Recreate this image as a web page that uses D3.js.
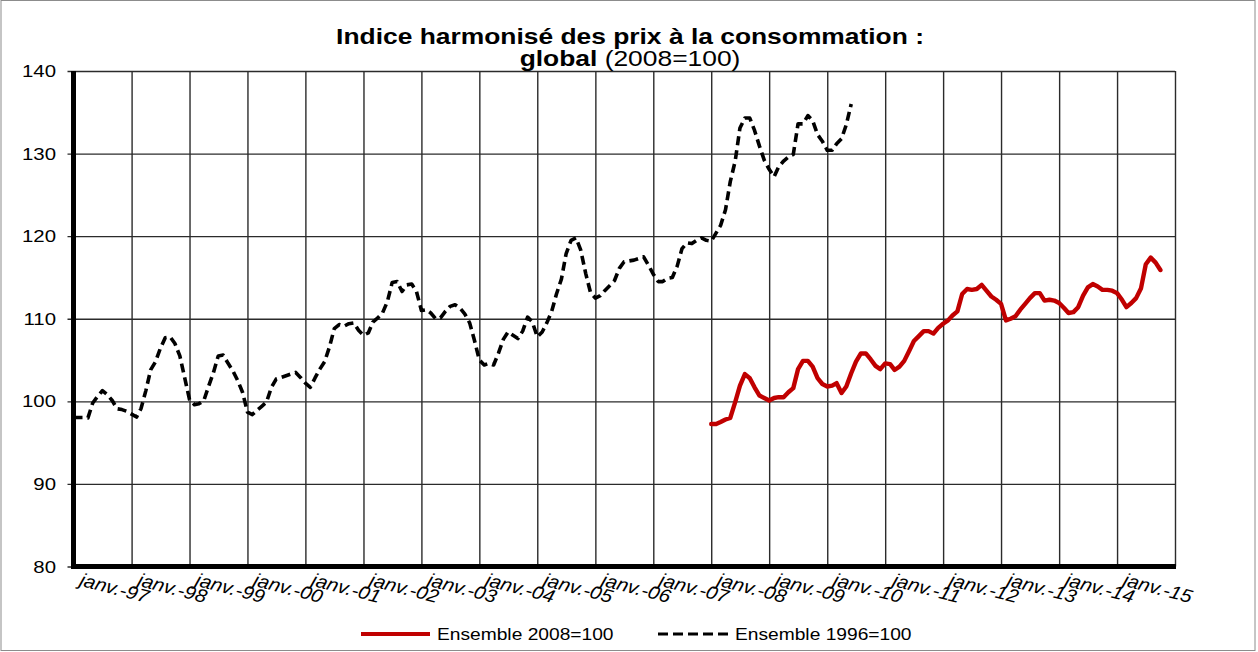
<!DOCTYPE html>
<html lang="fr">
<head>
<meta charset="utf-8">
<script src="https://cdn.jsdelivr.net/npm/d3@7"></script>
<style>
  html, body { margin: 0; padding: 0; background: #fff; }
  svg { display: block; font-family: "Liberation Sans", Arial, sans-serif; }
</style>
</head>
<body>
<svg id="chart" width="1258" height="652"></svg>
<script>
// Indice harmonisé des prix à la consommation, valeurs mensuelles
const firstMonth1996 = "1996-01";   // début de la série base 1996
const firstMonth2008 = "2007-01";   // début de la série base 2008

const ensemble1996 = [
  98.05, 98.05, 98.05, 98.0, 99.8, 100.6, 101.3, 100.8, 100.1, 99.1, 99.0, 98.8,
  98.45, 98.1, 99.1, 101.3, 103.8, 104.8, 106.4, 107.7, 107.8, 107.0, 105.5, 102.9,
  100.2, 99.6, 99.7, 100.1, 101.8, 103.5, 105.5, 105.6, 104.6, 103.7, 102.5, 101.1,
  98.7, 98.4, 98.9, 99.4, 99.9, 101.7, 102.7, 102.9, 103.1, 103.3, 103.5, 102.9,
  102.2, 101.7, 102.8, 103.9, 104.8, 106.6, 108.8, 109.3, 109.1, 109.4, 109.5, 108.6,
  108.0, 108.3, 109.6, 110.1, 110.7, 112.1, 114.4, 114.5, 113.3, 114.1, 114.2, 113.3,
  111.0, 111.1, 110.7, 110.0, 110.1, 110.9, 111.5, 111.7, 111.3, 110.6, 109.5, 107.4,
  105.0, 104.4, 104.6, 104.4, 105.8, 107.5, 108.4, 108.0, 107.6, 108.5, 110.2, 109.6,
  107.8, 108.4, 109.5, 110.9, 113.0, 114.8, 117.9, 119.5, 119.8, 118.3, 115.5, 113.2,
  112.5, 112.8, 113.4, 114.0, 114.6, 116.1, 116.9, 117.0, 117.1, 117.3, 117.5, 116.5,
  115.4, 114.5, 114.5, 114.9, 115.0, 116.4, 118.5, 119.2, 119.1, 119.5, 119.8, 119.5,
  119.4, 120.4, 121.3, 123.2, 126.6, 129.1, 133.1, 134.3, 134.3, 132.8, 130.9, 129.2,
  128.1, 127.2, 128.4, 129.1, 129.6, 129.9, 133.6, 133.6, 134.6, 134.0, 132.3, 131.5,
  130.4, 130.4, 131.2, 131.8, 133.5, 136.0
];

const ensemble2008 = [
  97.25, 97.25, 97.5, 97.8, 98.0, 99.9, 101.9, 103.3, 102.8, 101.7, 100.7, 100.4,
  100.1, 100.4, 100.5, 100.5, 101.1, 101.6, 103.9, 104.9, 104.9, 104.2, 102.8, 102.1,
  101.8, 101.9, 102.2, 101.0, 101.8, 103.4, 104.8, 105.8, 105.8, 105.1, 104.3, 103.9,
  104.6, 104.5, 103.8, 104.2, 104.9, 106.1, 107.3, 107.9, 108.5, 108.5, 108.2, 108.9,
  109.4, 109.8, 110.4, 110.9, 113.0, 113.6, 113.5, 113.6, 114.1, 113.4, 112.7, 112.3,
  111.8, 109.8, 110.0, 110.3, 111.1, 111.8, 112.5, 113.1, 113.1, 112.2, 112.3, 112.2,
  111.9, 111.3, 110.7, 110.8, 111.4, 112.8, 113.8, 114.2, 113.9, 113.5, 113.5, 113.4,
  113.1, 112.3, 111.4, 111.9, 112.5, 113.7, 116.6, 117.4, 116.8, 115.9
];

const yTicks = [80, 90, 100, 110, 120, 130, 140];
const tickYears = d3.range(1996, 2016);

const titleLine1 = "Indice harmonisé des prix à la consommation :";
const titleBold2 = "global";
const titleRest2 = " (2008=100)";
const legendLabels = ["Ensemble 2008=100", "Ensemble 1996=100"];

// Français : mois abrégés pour les étiquettes de l'axe
const fr = d3.timeFormatLocale({
  dateTime: "%A %e %B %Y à %X", date: "%d/%m/%Y", time: "%H:%M:%S",
  periods: ["AM", "PM"],
  days: ["dimanche","lundi","mardi","mercredi","jeudi","vendredi","samedi"],
  shortDays: ["dim.","lun.","mar.","mer.","jeu.","ven.","sam."],
  months: ["janvier","février","mars","avril","mai","juin","juillet","août","septembre","octobre","novembre","décembre"],
  shortMonths: ["janv.","févr.","mars","avr.","mai","juin","juil.","août","sept.","oct.","nov.","déc."]
});
const fmtTick = fr.format("%b-%y");
const parseMonth = d3.timeParse("%Y-%m");

const toSeries = (start, values) => {
  const d0 = parseMonth(start);
  return values.map((v, i) => ({ date: d3.timeMonth.offset(d0, i), value: v }));
};
const s1996 = toSeries(firstMonth1996, ensemble1996);
const s2008 = toSeries(firstMonth2008, ensemble2008);

const svg = d3.select("#chart");
const W = 1258, H = 652;
const plot = { left: 73.5, right: 1175, top: 71, bottom: 566.5 };
const SX = 1.2; // largeur de police élargie

const x = d3.scaleTime()
  .domain([new Date(1996, 0, 1), new Date(2015, 0, 1)])
  .range([plot.left, plot.right]);
const y = d3.scaleLinear().domain([80, 140]).range([plot.bottom, plot.top]);

// cadre extérieur
svg.append("rect")
  .attr("x", 1).attr("y", 0.5).attr("width", W - 4).attr("height", H - 2)
  .attr("fill", "none").attr("stroke", "#8c8c8c").attr("stroke-width", 1);

// grille horizontale avec petites graduations vers la gauche
const gridY = d3.axisLeft(y).tickValues(yTicks)
  .tickSize(-(plot.right - plot.left) - 6).tickFormat("");
svg.append("g")
  .attr("transform", `translate(${plot.left - 6},0)`)
  .call(gridY)
  .call(g => g.select(".domain").remove())
  .call(g => g.selectAll(".tick line").attr("stroke", "#2b2b2b").attr("stroke-width", 1.4));

// grille verticale : un trait par mois de janvier
const gridX = d3.axisBottom(x).tickValues(tickYears.map(yr => new Date(yr, 0, 1)))
  .tickSize(-(plot.bottom - plot.top)).tickFormat("");
svg.append("g")
  .attr("transform", `translate(0,${plot.bottom})`)
  .call(gridX)
  .call(g => g.select(".domain").remove())
  .call(g => g.selectAll(".tick line").attr("stroke", "#2b2b2b").attr("stroke-width", 1.4));

// axes épais
svg.append("line")
  .attr("x1", plot.left).attr("x2", plot.left)
  .attr("y1", plot.top).attr("y2", plot.bottom + 2.5)
  .attr("stroke", "#000").attr("stroke-width", 5);
svg.append("line")
  .attr("x1", plot.left - 2.5).attr("x2", plot.right + 1)
  .attr("y1", plot.bottom).attr("y2", plot.bottom)
  .attr("stroke", "#000").attr("stroke-width", 5);

// étiquettes de l'axe vertical
svg.append("g").selectAll("text").data(yTicks).join("text")
  .attr("transform", d => `translate(56,${y(d)}) scale(${SX},1)`)
  .attr("text-anchor", "end").attr("dy", "0.36em")
  .attr("font-size", 17).attr("fill", "#000")
  .text(d => d);

// étiquettes de l'axe horizontal (inclinées, italiques)
svg.append("g").selectAll("text").data(tickYears.slice(1)).join("text")
  .attr("transform", yr => `translate(${x(new Date(yr, 0, 1)) + 15},603) scale(1.1,1) rotate(16)`)
  .attr("text-anchor", "end")
  .attr("font-size", 18.5).attr("font-style", "italic").attr("fill", "#000")
  .text(yr => fmtTick(new Date(yr, 0, 1)));

// courbes
const line = d3.line().x(d => x(d.date)).y(d => y(d.value));

svg.append("path").datum(s1996)
  .attr("d", line).attr("fill", "none")
  .attr("stroke", "#000").attr("stroke-width", 3.6)
  .attr("stroke-dasharray", "9,5").attr("stroke-linejoin", "round");

svg.append("path").datum(s2008)
  .attr("d", line).attr("fill", "none")
  .attr("stroke", "#c00000").attr("stroke-width", 4.4)
  .attr("stroke-linejoin", "round").attr("stroke-linecap", "round");

// titre
const title = svg.append("g").attr("font-size", 22).attr("fill", "#000");
title.append("text")
  .attr("transform", `translate(630,44) scale(${SX},1)`)
  .attr("text-anchor", "middle").attr("font-weight", "bold")
  .text(titleLine1);
const t2 = title.append("text")
  .attr("transform", `translate(630,66) scale(${SX},1)`)
  .attr("text-anchor", "middle");
t2.append("tspan").attr("font-weight", "bold").text(titleBold2);
t2.append("tspan").text(titleRest2);

// légende
const legend = svg.append("g");
legend.append("line")
  .attr("x1", 361).attr("x2", 430).attr("y1", 634).attr("y2", 634)
  .attr("stroke", "#c00000").attr("stroke-width", 4);
legend.append("text")
  .attr("transform", `translate(437,640) scale(${SX},1)`)
  .attr("font-size", 16).attr("fill", "#000").text(legendLabels[0]);
legend.append("line")
  .attr("x1", 658).attr("x2", 728).attr("y1", 634).attr("y2", 634)
  .attr("stroke", "#000").attr("stroke-width", 3)
  .attr("stroke-dasharray", "10,5");
legend.append("text")
  .attr("transform", `translate(735,640) scale(${SX},1)`)
  .attr("font-size", 16).attr("fill", "#000").text(legendLabels[1]);
</script>
</body>
</html>
